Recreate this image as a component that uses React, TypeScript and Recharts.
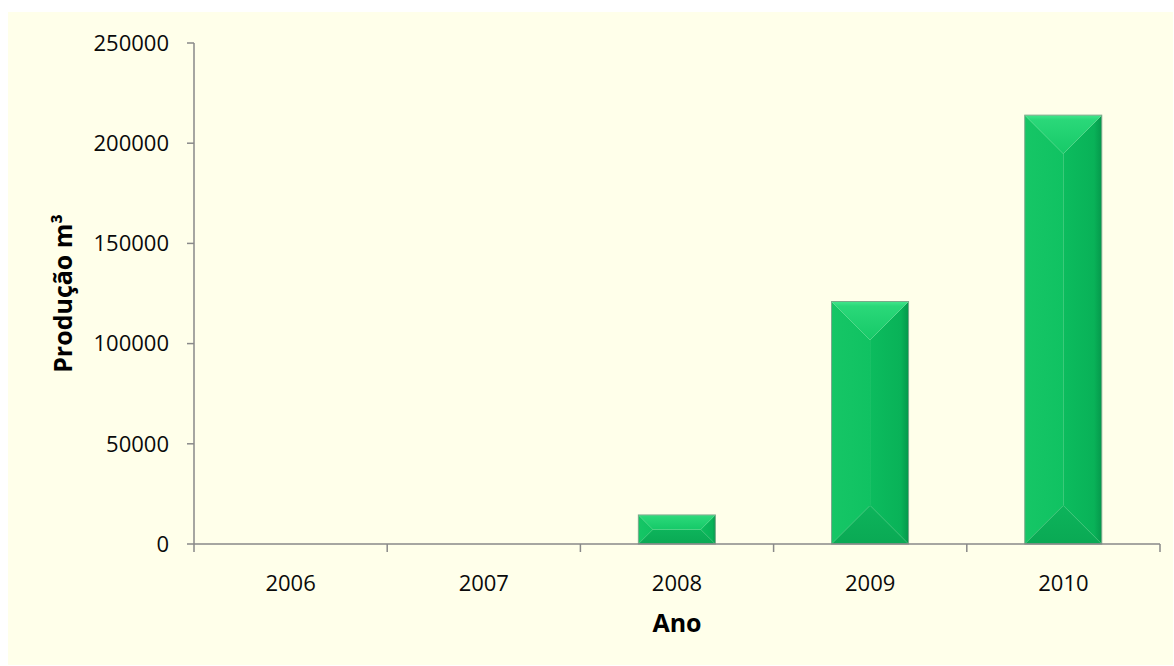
import { BarChart, Bar, XAxis, YAxis } from 'recharts'

const years = ['2006', '2007', '2008', '2009', '2010']
const production = [0, 0, 14500, 121000, 214000]
const yTicks = [0, 50000, 100000, 150000, 200000, 250000]

const data = years.map((ano, i) => ({ ano, producao: production[i] }))

const FONT = '"Open Sans", "Noto Sans", sans-serif'
const AXIS = '#898989'
const X_TICK_MARGIN = 10

// category labels plus tick marks on the band boundaries
function YearTick(props: any) {
  const { x, y, payload, index, visibleTicksCount } = props
  const half = payload.offset ?? 0
  const axisY = y - X_TICK_MARGIN
  const last = index === visibleTicksCount - 1
  return (
    <g>
      <line x1={x - half} x2={x - half} y1={axisY} y2={axisY + 8} stroke={AXIS} strokeWidth={1.5} />
      {last && <line x1={x + half} x2={x + half} y1={axisY} y2={axisY + 8} stroke={AXIS} strokeWidth={1.5} />}
      <text x={x} y={axisY + 38} textAnchor="middle" dominantBaseline="central" fontFamily={FONT} fontSize={22} fill="#0A0A0A">
        {payload.value}
      </text>
    </g>
  )
}

// bevelled bar: four facets meeting on 45 degree corner lines
function BevelBar(props: any) {
  const { x, y, width: w, height: h, index } = props
  if (!h || h <= 0) return null
  const d = Math.min(w, h) / 2
  const id = `bev${index}`
  const pts = (p: number[][]) => p.map((q) => q.join(',')).join(' ')
  return (
    <g>
      <defs>
        <linearGradient id={`${id}t`} x1="0" y1="0" x2="0" y2="1">
          <stop offset="0" stopColor="#42E68C" />
          <stop offset="0.12" stopColor="#2AD879" />
          <stop offset="1" stopColor="#16C968" />
        </linearGradient>
        <linearGradient id={`${id}r`} x1="0" y1="0" x2="1" y2="0">
          <stop offset="0" stopColor="#0CBC5E" />
          <stop offset="0.8" stopColor="#09B258" />
          <stop offset="1" stopColor="#05984B" />
        </linearGradient>
        <linearGradient id={`${id}l`} x1="0" y1="0" x2="1" y2="0">
          <stop offset="0" stopColor="#16C666" />
          <stop offset="1" stopColor="#10C262" />
        </linearGradient>
        <linearGradient id={`${id}b`} x1="0" y1="0" x2="0" y2="1">
          <stop offset="0" stopColor="#0DB45B" />
          <stop offset="1" stopColor="#0AA954" />
        </linearGradient>
      </defs>
      <polygon points={pts([[x, y], [x + d, y + d], [x + d, y + h - d], [x, y + h]])} fill={`url(#${id}l)`} />
      <polygon points={pts([[x + w, y], [x + w - d, y + d], [x + w - d, y + h - d], [x + w, y + h]])} fill={`url(#${id}r)`} />
      <polygon points={pts([[x, y + h], [x + w, y + h], [x + w - d, y + h - d], [x + d, y + h - d]])} fill={`url(#${id}b)`} />
      <polygon points={pts([[x, y], [x + w, y], [x + w - d, y + d], [x + d, y + d]])} fill={`url(#${id}t)`} />
      <rect x={x} y={y} width={w} height={h} fill="none" stroke="#7AA88A" strokeWidth={1} />
    </g>
  )
}

export default function App() {
  return (
    <div style={{ position: 'absolute', left: 8, top: 12, width: 1165, height: 653, background: '#FFFFEA' }}>
      <BarChart
        width={1165}
        height={653}
        data={data}
        margin={{ top: 31, right: 13, left: 54, bottom: 21 }}
        barCategoryGap="30%"
      >
        <XAxis
          dataKey="ano"
          height={100}
          axisLine={{ stroke: AXIS, strokeWidth: 1.5 }}
          tickLine={false}
          tickSize={0}
          tickMargin={X_TICK_MARGIN}
          tick={<YearTick />}
          interval={0}
          label={{
            content: ({ viewBox }: any) => (
              <text
                x={viewBox.x + viewBox.width / 2}
                y={viewBox.y + 78}
                textAnchor="middle"
                dominantBaseline="central"
                fontFamily={FONT}
                fontWeight="bold"
                fontSize={25}
                fill="#000"
              >
                Ano
              </text>
            ),
          }}
        />
        <YAxis
          width={132}
          domain={[0, 250000]}
          ticks={yTicks}
          interval={0}
          axisLine={{ stroke: AXIS, strokeWidth: 1.5 }}
          tickLine={{ stroke: AXIS, strokeWidth: 1.5 }}
          tickSize={7}
          tickMargin={18}
          tick={{ fontFamily: FONT, fontSize: 22, fill: '#0A0A0A' }}
          label={{
            content: ({ viewBox }: any) => {
              const cx = viewBox.x
              const cy = viewBox.y + viewBox.height / 2
              return (
                <text
                  x={cx}
                  y={cy}
                  transform={`rotate(-90 ${cx} ${cy})`}
                  textAnchor="middle"
                  dominantBaseline="central"
                  fontFamily={FONT}
                  fontWeight="bold"
                  fontSize={25}
                  fill="#000"
                >
                  Produção m³
                </text>
              )
            },
          }}
        />
        <Bar dataKey="producao" shape={<BevelBar />} isAnimationActive={false} />
      </BarChart>
    </div>
  )
}
